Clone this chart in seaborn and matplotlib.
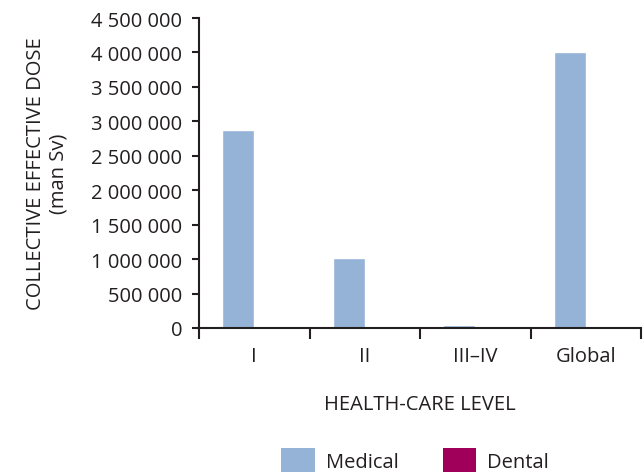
import matplotlib
matplotlib.use("Agg")
import matplotlib.pyplot as plt
import seaborn as sns
import pandas as pd
from matplotlib.ticker import FuncFormatter, FixedLocator
from matplotlib.patches import Patch

levels = ["I", "II", "III\u2013IV", "Global"]
medical = [2880000, 1020000, 40000, 4000000]
dental = [3000, 1000, 100, 4000]
series = ["Medical", "Dental"]
colors = {"Medical": "#95B3D7", "Dental": "#A1005A"}

df = pd.DataFrame({
    "level": levels * 2,
    "dose": medical + dental,
    "series": ["Medical"] * len(levels) + ["Dental"] * len(levels),
})

sns.set_style("white")
plt.rcParams["font.family"] = ["Open Sans", "DejaVu Sans"]
plt.rcParams["text.color"] = "#231F20"

FS = 14.5
fig = plt.figure(figsize=(6.43, 4.77), dpi=100)
ax = fig.add_axes([199 / 643, 1 - 329 / 477, (641 - 199) / 643, (329 - 19) / 477])

sns.barplot(data=df, x="level", y="dose", hue="series", order=levels,
            hue_order=series, palette=colors, width=0.58, ax=ax,
            legend=False, saturation=1)

ax.set_xlim(-0.5, 3.5)
ax.set_ylim(0, 4500000)
ax.set_yticks(range(0, 4500001, 500000))
ax.yaxis.set_major_formatter(FuncFormatter(lambda v, p: f"{int(v):,}".replace(",", " ")))

ax.xaxis.set_minor_locator(FixedLocator([-0.5, 0.5, 1.5, 2.5, 3.5]))
ax.tick_params(axis="x", which="major", length=0, pad=13, labelsize=FS, colors="#231F20")
ax.tick_params(axis="x", which="minor", length=8, width=1.5, direction="out", bottom=True, color="#231F20")
ax.tick_params(axis="y", which="major", length=5, width=1.5, direction="out", left=True,
               pad=7, labelsize=FS, colors="#231F20")

for s in ["top", "right"]:
    ax.spines[s].set_visible(False)
for s in ["left", "bottom"]:
    ax.spines[s].set_color("#231F20")
    ax.spines[s].set_linewidth(1.5)

ax.set_xlabel("HEALTH-CARE LEVEL", fontsize=FS, labelpad=20, color="#231F20")
ax.set_ylabel("COLLECTIVE EFFECTIVE DOSE\n(man Sv)", fontsize=FS, labelpad=16,
              color="#231F20", linespacing=1.2)

handles = [Patch(facecolor=colors[s], edgecolor="none") for s in series]
fig.legend(handles, series, loc="center", bbox_to_anchor=(415 / 643, 1 - 461 / 477),
           ncol=2, frameon=False, fontsize=FS, handlelength=1.64, handleheight=1.5,
           columnspacing=2.2, handletextpad=0.55)

fig.savefig("out.png", dpi=100)
